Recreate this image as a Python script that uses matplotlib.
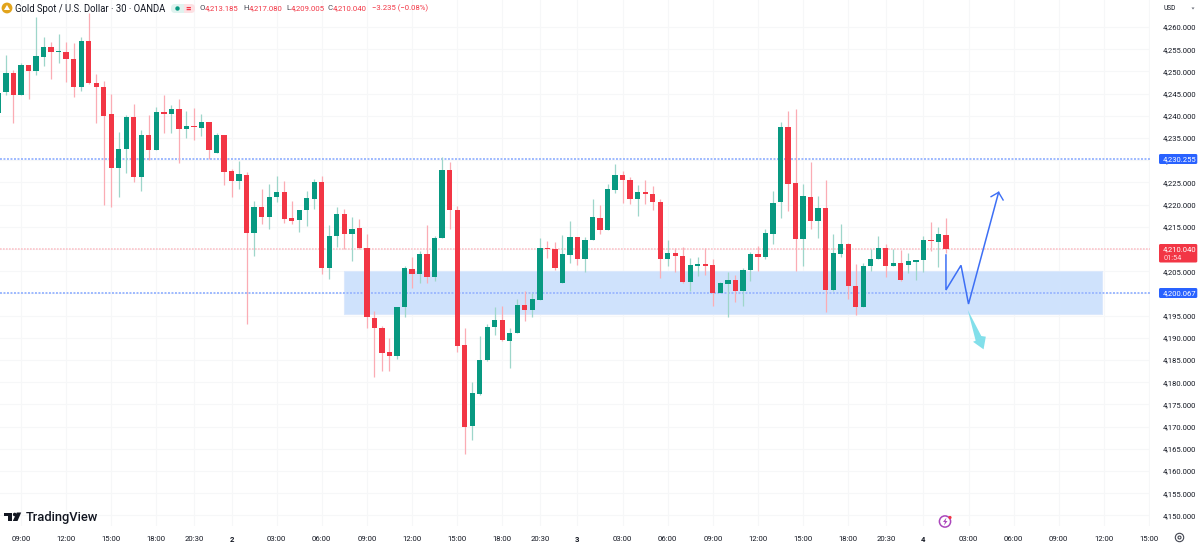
import numpy as np
import matplotlib
matplotlib.use("Agg")
import matplotlib.pyplot as plt
from matplotlib.patches import Circle, FancyBboxPatch, Polygon, Rectangle

plt.rcParams['font.family'] = ['Roboto', 'DejaVu Sans']

GREEN = '#089981'
RED = '#f23645'
BLUE = '#2962ff'

# 30-minute OHLC, one entry per bar; bar 3 of the lists is the 09:00 bar
opens = [4240.70,4245.28,4249.56,4244.68,4251.37,4250.09,4253.32,4255.57,4254.29,4254.37,4252.79,4246.49,4256.92,4247.46,4246.56,4240.48,4228.32,4232.45,4239.73,4226.22,4235.75,4232.22,4240.93,4240.33,4241.53,4237.03,4237.63,4237.33,4238.53,4231.62,4235.75,4227.57,4225.31,4226.67,4213.68,4219.53,4217.13,4221.64,4222.76,4216.91,
 4216.53,4218.71,4221.34,4225.02,4205.72,4212.85,4217.96,4213.45,4214.66,4210.15,4194.54,4192.13,4186.88,4185.90,4197.01,4205.57,4204.37,4208.95,4203.69,4212.40,4227.72,4218.78,4188.38,4170.06,4177.34,4185.00,4192.36,4193.93,4189.36,4191.01,4197.46,4196.34,4198.59,4210.30,4210.00,4202.34,4208.65,4212.70,4207.67,
 4212.03,4216.98,4214.36,4223.29,4226.74,4225.47,4221.26,4222.91,4222.46,4220.66,4207.67,4209.18,4208.42,4202.49,4206.25,4206.62,4206.47,4200.02,4202.12,4203.02,4200.62,4205.27,4208.88,4208.27,4213.45,4220.59,4237.40,4224.79,4212.25,4221.79,4216.23,4219.31,4200.77,4208.95,4211.13,4201.67,4197.01,4206.17,4207.67,
 4210.15,4206.17,4206.92,4206.40,4207.07,4207.52,4211.80,4211.58,4213.185]
highs = [4246.00,4253.69,4250.31,4251.82,4251.37,4262.33,4257.82,4256.70,4258.42,4256.70,4256.32,4257.67,4263.08,4249.34,4247.91,4244.83,4236.43,4240.10,4242.66,4236.80,4240.10,4241.91,4244.76,4242.36,4243.86,4241.00,4241.68,4240.40,4238.53,4236.05,4235.75,4228.02,4229.74,4227.27,4220.88,4223.44,4224.64,4226.37,4225.31,4220.88,
 4218.78,4223.14,4225.69,4226.44,4215.41,4219.46,4219.01,4217.13,4216.76,4213.30,4196.11,4192.66,4189.88,4197.01,4206.10,4208.27,4209.47,4215.41,4212.93,4230.65,4229.67,4219.69,4192.28,4179.97,4190.48,4193.03,4197.01,4197.16,4192.13,4198.66,4200.54,4200.02,4212.55,4211.80,4211.65,4213.15,4216.23,4212.78,4212.78,
 4221.26,4219.84,4224.64,4229.07,4227.64,4226.22,4224.49,4225.54,4224.12,4221.19,4212.03,4210.15,4210.45,4207.97,4208.27,4210.15,4207.75,4202.64,4204.90,4204.07,4205.80,4209.25,4210.68,4214.43,4222.99,4238.53,4241.01,4241.46,4224.64,4229.60,4222.01,4225.47,4213.30,4215.63,4211.28,4206.70,4206.92,4210.00,4212.93,
 4211.05,4210.00,4209.78,4209.02,4207.45,4212.93,4216.01,4214.88,4217.08]
lows = [4240.70,4244.68,4238.30,4244.68,4243.86,4249.26,4251.29,4248.29,4251.97,4247.54,4244.31,4245.66,4247.16,4238.45,4219.83,4219.53,4221.79,4227.04,4225.16,4223.14,4230.04,4232.22,4236.20,4236.20,4229.29,4235.07,4234.55,4235.52,4230.34,4231.55,4224.41,4221.79,4223.59,4193.03,4208.50,4215.63,4214.50,4220.58,4215.78,4215.55,
 4213.90,4215.18,4219.08,4204.37,4203.32,4210.53,4209.93,4207.37,4210.00,4192.28,4181.25,4182.52,4182.45,4185.15,4194.76,4201.14,4202.42,4202.27,4202.72,4212.40,4214.43,4186.73,4163.90,4166.91,4177.19,4184.85,4190.56,4189.20,4183.27,4191.01,4193.78,4194.76,4198.59,4207.90,4205.27,4202.34,4206.92,4206.40,4204.75,
 4212.03,4213.38,4214.36,4222.69,4220.44,4220.14,4217.43,4220.14,4218.71,4203.55,4206.25,4204.90,4202.34,4200.47,4203.85,4204.22,4197.24,4200.02,4194.76,4198.06,4197.24,4202.72,4205.12,4207.82,4211.05,4216.91,4218.64,4205.12,4206.17,4214.43,4212.48,4195.89,4200.62,4208.27,4198.82,4195.21,4197.01,4204.97,4207.67,
 4203.77,4206.17,4202.87,4204.52,4202.94,4204.82,4209.47,4205.95,4209.005]
closes = [4245.21,4249.56,4244.68,4251.44,4250.09,4253.54,4255.57,4254.29,4254.59,4252.72,4246.49,4256.92,4247.31,4246.49,4239.88,4228.17,4232.45,4239.73,4226.22,4235.75,4232.22,4240.85,4240.33,4241.61,4237.03,4237.63,4237.40,4238.53,4232.22,4235.75,4227.42,4225.31,4226.82,4213.68,4219.53,4217.28,4221.79,4222.91,4216.83,4216.38,
 4218.78,4221.56,4225.02,4205.72,4212.93,4217.81,4213.45,4214.50,4210.15,4194.76,4192.13,4186.65,4185.90,4197.01,4205.72,4204.37,4208.95,4203.69,4212.55,4227.72,4218.86,4188.23,4169.84,4177.49,4185.08,4192.36,4193.93,4189.43,4191.01,4197.46,4196.34,4198.74,4210.23,4209.93,4205.65,4208.87,4212.70,4207.67,4212.03,
 4217.13,4214.36,4223.51,4226.67,4225.62,4221.26,4222.91,4222.46,4220.66,4207.67,4209.18,4208.35,4202.49,4206.32,4206.62,4206.25,4200.02,4202.27,4203.02,4200.62,4205.27,4208.88,4208.20,4213.61,4220.44,4237.40,4224.57,4212.25,4221.86,4216.38,4219.24,4200.84,4209.03,4211.05,4201.67,4196.94,4206.17,4207.82,4210.15,
 4206.17,4206.92,4203.09,4207.22,4207.45,4212.03,4211.73,4213.30,4210.04]
first_bar = -3

price_ticks = list(range(4150, 4265, 5))
time_ticks = [0, 6, 12, 18, 23, 28, 34, 40, 46, 52, 58, 64, 69, 74, 80, 86, 92, 98, 104, 110, 115, 120, 126, 132, 138, 144, 150]
time_labels = ['09:00','12:00','15:00','18:00','20:30','2','03:00','06:00','09:00','12:00','15:00','18:00','20:30','3',
               '03:00','06:00','09:00','12:00','15:00','18:00','20:30','4','03:00','06:00','09:00','12:00','15:00']
day_labels = ['2', '3', '4']

level_high = 4230.255
level_low = 4200.067
last_price = 4210.040
zone_bars = (43, 143.75)
zone_prices = (4195.3, 4205.1)
path_bars = [123, 123, 125, 126, 130]
path_prices = [4208.65, 4200.77, 4206.32, 4197.61, 4222.76]
head_bars = [129.0, 130, 130.6]
head_prices = [4221.79, 4222.76, 4221.04]
down_arrow_bars = [125.9, 127.7, 128.3, 128.0, 126.6, 126.95]
down_arrow_prices = [4196.26, 4190.4, 4190.25, 4187.4, 4189.1, 4189.35]

W, H = 1200, 544
PLOT_W, PLOT_H = 1150, 526
fig = plt.figure(figsize=(W/100, H/100), dpi=100, facecolor='white')
ax = fig.add_axes([0, 1-PLOT_H/H, PLOT_W/W, PLOT_H/H])
ax.set_xlim(-21/7.52, (PLOT_W-21)/7.52)
ax.set_ylim(4266.08-PLOT_H/4.44, 4266.08)
for s in ax.spines.values():
    s.set_visible(False)

ax.set_yticks(price_ticks)
ax.set_yticklabels([f'{p:,.3f}' for p in price_ticks])
ax.yaxis.tick_right()
ax.set_xticks(time_ticks)
ax.set_xticklabels(time_labels)
ax.tick_params(axis='y', length=0, labelsize=5.5, labelcolor='#131722', pad=9.4)
ax.tick_params(axis='x', length=0, labelsize=5.6, labelcolor='#131722', pad=7.5)
for lab in ax.get_xticklabels():
    if lab.get_text() in day_labels:
        lab.set_fontweight('bold')
ax.grid(True, color='#f6f7f8', lw=0.8)
ax.set_axisbelow(True)

ax.add_patch(Rectangle((zone_bars[0], zone_prices[0]), zone_bars[1]-zone_bars[0], zone_prices[1]-zone_prices[0],
                       fc='#cfe2fc', ec='#dbe8fc', lw=0.8, zorder=1.5))

dots = (0, (1.0, 0.8))
ax.axhline(level_high, color='#9db9ff', lw=1.4, ls=dots, zorder=2, snap=True)
ax.axhline(level_low, color='#9db9ff', lw=1.4, ls=dots, zorder=2, snap=True)
ax.axhline(last_price, color='#fcc4ca', lw=1.2, ls=dots, zorder=2, snap=True)

o, h, l, c = map(np.array, (opens, highs, lows, closes))
x = np.arange(len(o)) + first_bar
colors = np.where(c >= o, GREEN, RED)
wick_colors = np.where(c >= o, '#9ed6ca', '#fbacb4')
ax.vlines(x, l, h, colors=wick_colors, lw=0.9, zorder=3)
body = np.maximum(np.abs(c-o), 0.25)
ax.bar(x, body, bottom=np.minimum(o, c), width=0.7, color=colors, lw=0, zorder=4)

ax.plot(path_bars, path_prices, color='#3d6ff5', lw=1.1, zorder=6, solid_joinstyle='miter')
ax.plot(head_bars, head_prices, color='#3d6ff5', lw=1.0, zorder=6)
ax.add_patch(Polygon(np.column_stack([down_arrow_bars, down_arrow_prices]), closed=True,
                     fc='#82dfea', ec='none', zorder=6))

# overlay in pixel space for chart furniture
ov = fig.add_axes([0, 0, 1, 1], facecolor='none')
ov.set_xlim(0, W); ov.set_ylim(H, 0); ov.axis('off')

# header
ov.add_patch(Circle((7, 8), 5.4, fc='#e2a41c', ec='none'))
ov.add_patch(Polygon([[4, 10], [7, 5], [10, 10]], closed=True, fc='white', ec='none'))
ov.text(15, 8.5, 'Gold Spot / U.S. Dollar · 30 · OANDA', fontsize=6.85, color='#131722', va='center')
ov.add_patch(FancyBboxPatch((171, 4), 10, 9, boxstyle='round,pad=0,rounding_size=4', fc='#dff3ef', ec='none'))
ov.add_patch(Rectangle((176, 4), 8, 9, fc='#dff3ef', ec='none'))
ov.add_patch(FancyBboxPatch((185, 4), 10, 9, boxstyle='round,pad=0,rounding_size=4', fc='#fde1e4', ec='none'))
ov.add_patch(Rectangle((184, 4), 6, 9, fc='#fde1e4', ec='none'))
ov.add_patch(Circle((177.5, 8.5), 2.2, fc=GREEN, ec='none'))
ov.text(188.5, 8.3, '=', fontsize=7, color=RED, ha='center', va='center', fontweight='bold')
ohlc_x = [199, 243, 286, 328]
ohlc_val_x = [205, 249, 290.7, 333]
ohlc_letter = ['O', 'H', 'L', 'C']
ohlc_val = ['4,213.185', '4,217.080', '4,209.005', '4,210.040']
for px, vx, a, b in zip(ohlc_x, ohlc_val_x, ohlc_letter, ohlc_val):
    ov.text(px, 8.5, a, fontsize=5.6, color='#434651', va='center')
    ov.text(vx, 8.5, b, fontsize=5.6, color=RED, va='center')
ov.text(372, 8.5, '−3.235 (−0.08%)', fontsize=5.6, color=RED, va='center')

ov.text(1163, 8.5, 'USD', fontsize=4.8, color='#131722', va='center')
ov.add_patch(Polygon([[1191.5, 7.5], [1194.5, 7.5], [1193, 9.5]], closed=True, fc='#6a6d78', ec='none'))

# price labels
for price, label_y in [(level_high, 159), (level_low, 293)]:
    ov.add_patch(FancyBboxPatch((1159, label_y-5), 38.3, 10, boxstyle='round,pad=0,rounding_size=1.5', fc=BLUE, ec='none', zorder=5))
    ov.text(1179.5, label_y+0.2, f'{price:,.3f}', fontsize=5.5, color='white', ha='center', va='center', zorder=6)
ov.add_patch(FancyBboxPatch((1159, 244), 38.3, 18.5, boxstyle='round,pad=0,rounding_size=1.5', fc=RED, ec='none', zorder=5))
ov.text(1179.5, 249, f'{last_price:,.3f}', fontsize=5.5, color='white', ha='center', va='center', zorder=6)
ov.text(1164, 258, '01:54', fontsize=5.3, color='#ffd9dd', ha='left', va='center', zorder=6)

# TradingView logo
ov.add_patch(Polygon([[4, 512.5], [12.3, 512.5], [12.3, 521], [7.5, 521], [7.5, 516], [4, 516]], closed=True, fc='#131722', ec='none'))
ov.add_patch(Circle((14.7, 514.5), 1.8, fc='#131722', ec='none'))
ov.add_patch(Polygon([[16.8, 512.5], [21.2, 512.5], [17.5, 521], [12.8, 521]], closed=True, fc='#131722', ec='none'))
ov.text(25.5, 517, 'TradingView', fontsize=9.3, fontweight='medium', color='#131722', va='center')

# lightning icon
ov.add_patch(Circle((945, 521.5), 5.6, fc='white', ec='#ab47bc', lw=1.1, zorder=5))
ov.add_patch(Polygon([[946.5, 517.5], [943, 522], [945, 522], [944, 525.5], [947.5, 521], [945.5, 521]], closed=True, fc='#ab47bc', ec='none', zorder=6))
ov.add_patch(Circle((950, 517.5), 1.6, fc=RED, ec='none', zorder=6))

# settings icon
ov.add_patch(Circle((1179.5, 537.5), 4.2, fc='none', ec='#434651', lw=0.8))
ov.add_patch(Circle((1179.5, 537.5), 1.5, fc='none', ec='#434651', lw=0.8))

fig.savefig('out.png', dpi=100, facecolor='white')
